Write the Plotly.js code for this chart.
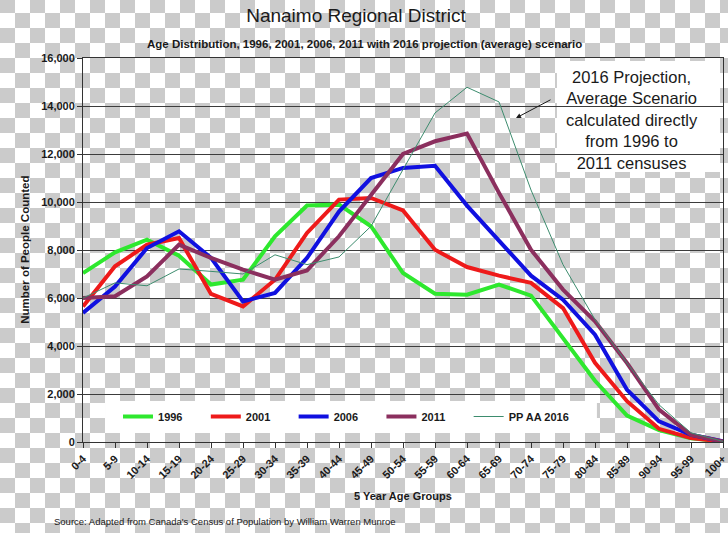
<!DOCTYPE html>
<html>
<head>
<meta charset="utf-8">
<script src="https://cdn.plot.ly/plotly-3.0.1.min.js"></script>
<style>
html, body {
  margin: 0; padding: 0; width: 728px; height: 533px; overflow: hidden;
  background-color: #ffffff;
  background-image: conic-gradient(#ffffff 25%, #cbcbcb 0 50%, #ffffff 0 75%, #cbcbcb 0);
  background-size: 30px 30px;
  background-position: 0px -2px;
}
#chart { width: 728px; height: 533px; }
</style>
</head>
<body>
<div id="chart"></div>
<script>
const ageGroups = ['0-4','5-9','10-14','15-19','20-24','25-29','30-34','35-39','40-44','45-49','50-54','55-59','60-64','65-69','70-74','75-79','80-84','85-89','90-94','95-99','100+'];
const y1996 = [7040, 7900, 8430, 7760, 6560, 6760, 8570, 9850, 9890, 8990, 7040, 6180, 6140, 6560, 6100, 4350, 2550, 1100, 500, 160, 15];
const y2001 = [5650, 7320, 8220, 8500, 6170, 5650, 6760, 8710, 10100, 10170, 9650, 8010, 7290, 6930, 6630, 5580, 3300, 1700, 550, 170, 10];
const y2006 = [5380, 6480, 8080, 8780, 7670, 5860, 6210, 7670, 9600, 11000, 11420, 11510, 9850, 8360, 6930, 5930, 4470, 2180, 860, 300, 25];
const y2011 = [6000, 6070, 6900, 8220, 7670, 7180, 6760, 7150, 8570, 10300, 12000, 12530, 12850, 10380, 8010, 6350, 5030, 3290, 1350, 300, 20];
const yPP2016 = [6000, 6630, 6510, 7210, 7110, 7000, 7800, 7390, 7710, 8990, 11350, 13710, 14780, 14170, 10500, 7390, 5100, 3290, 1550, 380, 25];

const seriesNames = ['1996', '2001', '2006', '2011', 'PP AA 2016'];
const seriesValues = [y1996, y2001, y2006, y2011, yPP2016];
const seriesColors = ['#2ee82e', '#ee1a1a', '#1010e0', '#8b2f5e', '#3d8c6e'];
const seriesWidths = [4, 4, 4, 4, 1];

const boldFont = 'Liberation Sans, Arial, sans-serif';
const legendPad = '\u00A0\u00A0\u00A0\u00A0\u00A0\u00A0';

const traces = seriesNames.map((n, k) => ({
  type: 'scatter', mode: 'lines',
  name: k < seriesNames.length - 1 ? n + legendPad : n,
  x: ageGroups, y: seriesValues[k],
  line: { color: seriesColors[k], width: seriesWidths[k] }
}));

const layout = {
  width: 728, height: 533,
  margin: { l: 83, r: 5, t: 58, b: 91, pad: 0 },
  paper_bgcolor: 'rgba(0,0,0,0)',
  plot_bgcolor: 'rgba(0,0,0,0)',
  showlegend: true,
  title: {
    text: 'Nanaimo Regional District',
    font: { family: boldFont, size: 19, color: '#1a1a1a' },
    x: 0.489, xanchor: 'center', y: 0.972, yanchor: 'middle', xref: 'container', yref: 'container'
  },
  xaxis: {
    type: 'category', range: [0, 20], automargin: false,
    showgrid: false, showline: true, linecolor: '#333333', linewidth: 1, mirror: true,
    ticks: 'outside', ticklen: 5, tickcolor: '#333333', tickangle: -45,
    tickfont: { family: boldFont, size: 11, color: '#1a1a1a', weight: 'bold' }
  },
  yaxis: {
    range: [0, 16000], dtick: 2000, tickformat: ',d', automargin: false,
    showgrid: true, gridcolor: '#3c3c3c', gridwidth: 1, zeroline: false,
    showline: true, linecolor: '#333333', linewidth: 1, mirror: true,
    ticks: 'outside', ticklen: 5, tickcolor: '#333333',
    tickfont: { family: boldFont, size: 11, color: '#1a1a1a', weight: 'bold' }
  },
  legend: {
    orientation: 'h', x: 0.0547, y: 0.0664, xanchor: 'left', yanchor: 'middle',
    bgcolor: 'rgba(0,0,0,0)', borderwidth: 0,
    font: { family: boldFont, size: 11, color: '#1a1a1a', weight: 'bold' }
  },
  shapes: [
    {
      type: 'rect', xref: 'paper', yref: 'paper', layer: 'below',
      x0: 0.7406, x1: 0.9953, y0: 0.703, y1: 0.992,
      fillcolor: '#ffffff', line: { width: 0 }
    },
    {
      type: 'rect', xref: 'paper', yref: 'paper', layer: 'below',
      x0: 0.0344, x1: 0.803, y0: 0.0234, y1: 0.1068,
      fillcolor: '#ffffff', line: { width: 0 }
    }
  ],
  annotations: [
    {
      text: 'Age Distribution, 1996, 2001, 2006, 2011 with 2016 projection (average) scenario',
      xref: 'paper', yref: 'paper', x: 0.44, y: 1.036, xanchor: 'center', yanchor: 'middle',
      showarrow: false, font: { family: boldFont, size: 11.5, color: '#1a1a1a', weight: 'bold' }
    },
    {
      text: '2016 Projection,<br>Average Scenario<br>calculated directly<br>from 1996 to<br>2011 censuses',
      xref: 'paper', yref: 'paper', x: 0.8578, y: 0.8385, xanchor: 'center', yanchor: 'middle',
      showarrow: false, align: 'center',
      font: { family: 'Liberation Sans, Arial, sans-serif', size: 16.5, color: '#1a1a1a' }
    },
    {
      text: '', xref: 'paper', yref: 'paper', x: 0.6766, y: 0.84375,
      showarrow: true, ax: 36, ay: -19, arrowhead: 2, arrowsize: 1, arrowwidth: 1,
      arrowcolor: '#1a1a1a', standoff: 0
    },
    {
      text: 'Number of People Counted', textangle: -90,
      xref: 'paper', yref: 'paper', x: -0.091, y: 0.5, xanchor: 'center', yanchor: 'middle',
      showarrow: false, font: { family: boldFont, size: 11.5, color: '#1a1a1a', weight: 'bold' }
    },
    {
      text: '5 Year Age Groups',
      xref: 'paper', yref: 'paper', x: 0.5, y: -0.141, xanchor: 'center', yanchor: 'middle',
      showarrow: false, font: { family: boldFont, size: 11, color: '#1a1a1a', weight: 'bold' }
    },
    {
      text: "Source: Adapted from Canada's Census of Population by William Warren Munroe",
      xref: 'paper', yref: 'paper', x: -0.048, y: -0.208, xanchor: 'left', yanchor: 'middle',
      showarrow: false, font: { family: boldFont, size: 9.5, color: '#1a1a1a' }
    }
  ]
};

Plotly.newPlot('chart', traces, layout, { staticPlot: true, displayModeBar: false });
</script>
</body>
</html>
